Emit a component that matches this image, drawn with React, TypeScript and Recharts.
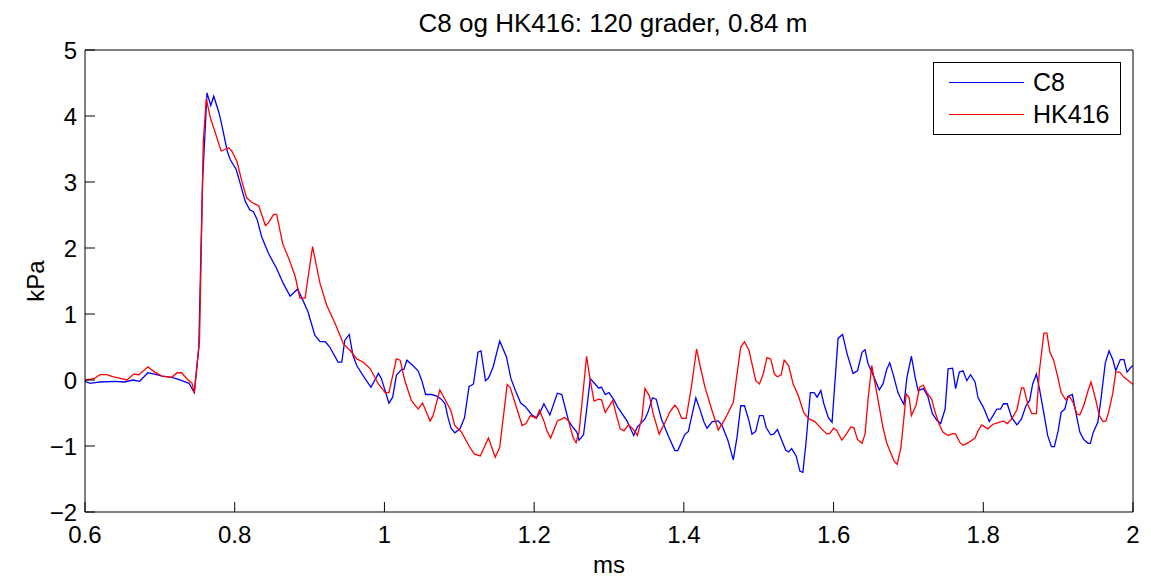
import { Line, LineChart, XAxis, YAxis } from 'recharts';

const FONT = '"Liberation Sans", Arial, Helvetica, sans-serif';

const X_TICKS = [0.6, 0.8, 1, 1.2, 1.4, 1.6, 1.8, 2];
const Y_TICKS = [-2, -1, 0, 1, 2, 3, 4, 5];

// C8 (blue) – time in ms
const C8_T = [
  0.6, 0.607, 0.62, 0.64, 0.653, 0.664, 0.673, 0.684, 0.693, 0.703, 0.716, 0.725, 0.739, 0.746,
  0.752, 0.757, 0.763, 0.768, 0.772, 0.779, 0.783, 0.79, 0.794, 0.802, 0.807, 0.814, 0.82, 0.825,
  0.83, 0.836, 0.845, 0.856, 0.865, 0.874, 0.884, 0.891, 0.898, 0.907, 0.914, 0.921, 0.927, 0.938,
  0.943, 0.947, 0.953, 0.958, 0.963, 0.973, 0.982, 0.992, 0.996, 1.006, 1.011, 1.016, 1.023, 1.026,
  1.03, 1.038, 1.045, 1.05, 1.055, 1.063, 1.069, 1.076, 1.081, 1.085, 1.089, 1.094, 1.101, 1.107,
  1.113, 1.119, 1.125, 1.129, 1.135, 1.139, 1.145, 1.154, 1.163, 1.169, 1.175, 1.182, 1.188, 1.197,
  1.203, 1.208, 1.213, 1.221, 1.231, 1.237, 1.246, 1.252, 1.257, 1.26, 1.266, 1.27, 1.275, 1.279,
  1.286, 1.29, 1.295, 1.3, 1.306, 1.312, 1.324, 1.333, 1.338, 1.348, 1.352, 1.358, 1.363, 1.37,
  1.379, 1.388, 1.392, 1.401, 1.406, 1.416, 1.421, 1.427, 1.431, 1.438, 1.446, 1.451, 1.459, 1.466,
  1.471, 1.476, 1.481, 1.487, 1.491, 1.496, 1.501, 1.506, 1.51, 1.516, 1.52, 1.525, 1.531, 1.536,
  1.54, 1.544, 1.55, 1.555, 1.559, 1.563, 1.569, 1.574, 1.578, 1.583, 1.587, 1.593, 1.598, 1.606,
  1.612, 1.618, 1.626, 1.632, 1.638, 1.642, 1.646, 1.653, 1.661, 1.666, 1.671, 1.675, 1.68, 1.686,
  1.691, 1.694, 1.698, 1.704, 1.709, 1.713, 1.72, 1.726, 1.732, 1.738, 1.743, 1.749, 1.753, 1.759,
  1.763, 1.768, 1.773, 1.778, 1.783, 1.789, 1.793, 1.8, 1.808, 1.813, 1.818, 1.823, 1.827, 1.832,
  1.838, 1.845, 1.851, 1.857, 1.862, 1.866, 1.871, 1.875, 1.881, 1.886, 1.891, 1.895, 1.9, 1.904,
  1.909, 1.913, 1.919, 1.924, 1.929, 1.934, 1.94, 1.943, 1.947, 1.953, 1.957, 1.963, 1.968, 1.973,
  1.977, 1.983, 1.988, 1.992, 1.997, 2.0,
];
const C8_KPA = [
  -0.02, -0.05, -0.03, -0.02, -0.03, 0.0, -0.02, 0.11, 0.09, 0.06, 0.04, 0.01, -0.05, -0.19,
  0.5, 3.0, 4.35, 4.16, 4.3, 4.05, 3.85, 3.47, 3.34, 3.19, 2.99, 2.71, 2.58, 2.55,
  2.43, 2.17, 1.92, 1.69, 1.46, 1.27, 1.38, 1.21, 1.03, 0.68, 0.58, 0.58, 0.5, 0.27,
  0.27, 0.6, 0.69, 0.37, 0.22, 0.04, -0.11, 0.1, 0.02, -0.35, -0.26, 0.07, 0.16, 0.16,
  0.3, 0.22, 0.14, -0.01, -0.22, -0.22, -0.24, -0.29, -0.36, -0.57, -0.73, -0.8, -0.74, -0.57,
  -0.1, -0.06, 0.42, 0.44, -0.01, 0.03, 0.19, 0.59, 0.35, 0.02, -0.16, -0.35, -0.4, -0.53,
  -0.57, -0.49, -0.36, -0.53, -0.2, -0.22, -0.62, -0.72, -0.79, -0.91, -0.83, -0.46, 0.02, -0.03,
  -0.12, -0.11, -0.22, -0.19, -0.29, -0.42, -0.62, -0.84, -0.71, -0.59, -0.49, -0.27, -0.29, -0.59,
  -0.84, -1.07, -1.07, -0.83, -0.78, -0.27, -0.43, -0.64, -0.73, -0.63, -0.62, -0.69, -0.92, -1.21,
  -0.87, -0.39, -0.39, -0.62, -0.82, -0.78, -0.54, -0.54, -0.72, -0.83, -0.82, -0.75, -0.92, -1.06,
  -1.09, -1.04, -1.15, -1.38, -1.4, -0.97, -0.19, -0.19, -0.26, -0.16, -0.36, -0.57, -0.64, 0.63,
  0.69, 0.4, 0.1, 0.14, 0.42, 0.46, 0.25, 0.07, -0.15, -0.06, 0.16, 0.26, 0.07, -0.19,
  -0.31, -0.37, 0.04, 0.36, 0.04, -0.16, -0.13, -0.25, -0.51, -0.61, -0.66, -0.44, 0.17, 0.18,
  -0.13, 0.12, 0.14, -0.01, 0.08, -0.03, -0.27, -0.41, -0.63, -0.54, -0.44, -0.44, -0.36, -0.36,
  -0.57, -0.68, -0.59, -0.39, -0.31, -0.06, 0.09, -0.13, -0.51, -0.84, -1.01, -1.01, -0.77, -0.49,
  -0.44, -0.25, -0.22, -0.51, -0.79, -0.9, -0.96, -0.96, -0.79, -0.64, -0.31, 0.26, 0.44, 0.31,
  0.14, 0.31, 0.31, 0.12, 0.19, 0.22,
];

// HK416 (red) – time in ms
const HK_T = [
  0.6, 0.612, 0.62, 0.629, 0.637, 0.649, 0.656, 0.665, 0.672, 0.684, 0.693, 0.703, 0.716, 0.723,
  0.729, 0.736, 0.743, 0.746, 0.753, 0.758, 0.762, 0.768, 0.772, 0.779, 0.782, 0.792, 0.796, 0.803,
  0.81, 0.816, 0.823, 0.832, 0.841, 0.845, 0.852, 0.856, 0.864, 0.874, 0.881, 0.887, 0.894, 0.904,
  0.914, 0.923, 0.934, 0.945, 0.954, 0.963, 0.972, 0.981, 0.992, 1.001, 1.006, 1.016, 1.021, 1.027,
  1.036, 1.045, 1.051, 1.061, 1.065, 1.074, 1.083, 1.089, 1.094, 1.103, 1.113, 1.12, 1.128, 1.139,
  1.148, 1.154, 1.164, 1.168, 1.177, 1.184, 1.189, 1.195, 1.203, 1.207, 1.213, 1.217, 1.222, 1.231,
  1.241, 1.246, 1.252, 1.256, 1.26, 1.266, 1.27, 1.275, 1.28, 1.286, 1.29, 1.295, 1.305, 1.31,
  1.315, 1.32, 1.326, 1.332, 1.338, 1.344, 1.348, 1.354, 1.359, 1.367, 1.375, 1.381, 1.388, 1.392,
  1.397, 1.403, 1.41, 1.417, 1.421, 1.428, 1.437, 1.446, 1.455, 1.466, 1.471, 1.476, 1.481, 1.487,
  1.496, 1.501, 1.506, 1.511, 1.516, 1.521, 1.525, 1.53, 1.534, 1.54, 1.546, 1.553, 1.56, 1.567,
  1.575, 1.584, 1.591, 1.595, 1.6, 1.604, 1.611, 1.617, 1.623, 1.627, 1.632, 1.638, 1.642, 1.646,
  1.651, 1.655, 1.66, 1.666, 1.671, 1.675, 1.681, 1.685, 1.69, 1.694, 1.697, 1.701, 1.704, 1.71,
  1.715, 1.72, 1.725, 1.731, 1.735, 1.741, 1.746, 1.753, 1.76, 1.763, 1.769, 1.773, 1.78, 1.789,
  1.793, 1.798, 1.806, 1.813, 1.822, 1.827, 1.832, 1.838, 1.845, 1.851, 1.854, 1.86, 1.865, 1.871,
  1.875, 1.881, 1.885, 1.889, 1.894, 1.9, 1.904, 1.91, 1.915, 1.92, 1.925, 1.929, 1.935, 1.94,
  1.944, 1.95, 1.955, 1.96, 1.964, 1.968, 1.973, 1.977, 1.982, 1.988, 1.994, 2.0,
];
const HK_KPA = [
  0.0, 0.02, 0.08, 0.08, 0.05, 0.02, 0.0, 0.09, 0.08, 0.2, 0.12, 0.06, 0.04, 0.11,
  0.11, 0.02, -0.05, -0.2, 0.6, 3.6, 4.26, 3.95, 3.82, 3.57, 3.47, 3.52, 3.47, 3.31,
  2.99, 2.76, 2.69, 2.64, 2.34, 2.38, 2.51, 2.51, 2.07, 1.79, 1.56, 1.24, 1.24, 2.02,
  1.46, 1.13, 0.86, 0.55, 0.45, 0.32, 0.27, 0.17, -0.06, -0.19, -0.19, 0.32, 0.3, 0.0,
  -0.31, -0.44, -0.35, -0.62, -0.54, -0.15, -0.34, -0.47, -0.69, -0.79, -1.0, -1.12, -1.15, -0.88,
  -1.17, -1.02, -0.07, -0.11, -0.44, -0.69, -0.66, -0.54, -0.58, -0.46, -0.62, -0.77, -0.88, -0.62,
  -0.57, -0.62, -0.87, -0.95, -0.79, -0.11, 0.36, -0.01, -0.32, -0.29, -0.3, -0.49, -0.31, -0.54,
  -0.74, -0.77, -0.68, -0.74, -0.84, -0.57, -0.13, -0.24, -0.51, -0.82, -0.64, -0.49, -0.38, -0.44,
  -0.58, -0.58, -0.11, 0.47, 0.25, -0.1, -0.44, -0.76, -0.59, -0.34, 0.09, 0.5, 0.58, 0.45,
  -0.01, -0.06, 0.09, 0.34, 0.32, 0.09, 0.05, 0.08, 0.3, 0.22, -0.06, -0.24, -0.49, -0.59,
  -0.63, -0.74, -0.82, -0.81, -0.73, -0.76, -0.91, -0.82, -0.71, -0.72, -0.9, -0.96, -0.82, -0.3,
  0.22, -0.03, -0.34, -0.72, -0.95, -1.07, -1.23, -1.28, -1.02, -0.57, -0.21, -0.27, -0.54, -0.39,
  -0.11, -0.08, -0.2, -0.29, -0.46, -0.67, -0.79, -0.84, -0.81, -0.82, -0.95, -0.99, -0.95, -0.88,
  -0.77, -0.68, -0.74, -0.67, -0.64, -0.62, -0.66, -0.59, -0.45, -0.12, -0.12, -0.39, -0.51, -0.51,
  0.14, 0.71, 0.71, 0.42, 0.3, 0.02, -0.19, -0.3, -0.25, -0.34, -0.51, -0.53, -0.36, -0.16,
  -0.03, -0.29, -0.54, -0.63, -0.62, -0.46, -0.2, 0.12, 0.12, 0.04, -0.01, -0.07,
];

const series = [
  { name: 'C8', color: '#0000ff', data: C8_T.map((t, i) => ({ t, v: C8_KPA[i] })) },
  { name: 'HK416', color: '#ff0000', data: HK_T.map((t, i) => ({ t, v: HK_KPA[i] })) },
];

const fmtY = (v: number) => (v < 0 ? '\u2212' + Math.abs(v) : String(v));

export default function App() {
  return (
    <div
      style={{
        position: 'absolute',
        left: 0,
        top: 0,
        width: 1151,
        height: 581,
        background: '#fff',
        fontFamily: FONT,
        color: '#000',
      }}
    >
      <div
        style={{
          position: 'absolute',
          left: 89,
          top: 8,
          width: 1048,
          textAlign: 'center',
          fontSize: 26,
          lineHeight: '30px',
        }}
      >
        C8 og HK416: 120 grader, 0.84 m
      </div>

      <LineChart
        width={1151}
        height={581}
        margin={{ top: 49, right: 17, bottom: 0, left: 0 }}
        style={{ fontFamily: FONT }}
      >
        <XAxis
          xAxisId="b"
          type="number"
          dataKey="t"
          domain={[0.6, 2]}
          ticks={X_TICKS}
          interval={0}
          allowDataOverflow
          height={69}
          stroke="#000"
          tickSize={-10}
          tickMargin={24}
          tick={{ fill: '#000', fontSize: 24 }}
          label={{ value: 'ms', position: 'insideBottom', offset: 8, fill: '#000', fontSize: 24 }}
        />
        <XAxis
          xAxisId="top"
          orientation="top"
          type="number"
          dataKey="t"
          domain={[0.6, 2]}
          ticks={X_TICKS}
          interval={0}
          allowDataOverflow
          height={1}
          stroke="#000"
          tickSize={-10}
          tick={false}
        />
        <YAxis
          yAxisId="l"
          type="number"
          domain={[-2, 5]}
          ticks={Y_TICKS}
          interval={0}
          allowDataOverflow
          width={85}
          stroke="#000"
          tickSize={-10}
          tickMargin={18}
          tickFormatter={fmtY}
          tick={{ fill: '#000', fontSize: 24 }}
          label={{
            value: 'kPa',
            angle: -90,
            position: 'insideLeft',
            offset: 35,
            fill: '#000',
            fontSize: 24,
            style: { textAnchor: 'middle' },
          }}
        />
        <YAxis
          yAxisId="r"
          orientation="right"
          type="number"
          domain={[-2, 5]}
          ticks={Y_TICKS}
          interval={0}
          allowDataOverflow
          width={1}
          stroke="#000"
          tickSize={-10}
          tick={false}
        />
        {series.map((s) => (
          <Line
            key={s.name}
            xAxisId="b"
            yAxisId="l"
            data={s.data}
            dataKey="v"
            name={s.name}
            type="linear"
            stroke={s.color}
            strokeWidth={1.3}
            dot={false}
            activeDot={false}
            isAnimationActive={false}
          />
        ))}
      </LineChart>

      <div
        style={{
          position: 'absolute',
          left: 933,
          top: 62,
          width: 188,
          height: 73,
          boxSizing: 'border-box',
          border: '1px solid #000',
          background: '#fff',
        }}
      >
        {series.map((s, i) => (
          <div
            key={s.name}
            style={{
              position: 'absolute',
              left: 0,
              top: i === 0 ? 4 : 36,
              height: 30,
              display: 'flex',
              alignItems: 'center',
            }}
          >
            <div style={{ marginLeft: 15, width: 75, borderTop: `1.3px solid ${s.color}` }} />
            <span style={{ marginLeft: 9, fontSize: 25, lineHeight: '30px' }}>{s.name}</span>
          </div>
        ))}
      </div>
    </div>
  );
}
